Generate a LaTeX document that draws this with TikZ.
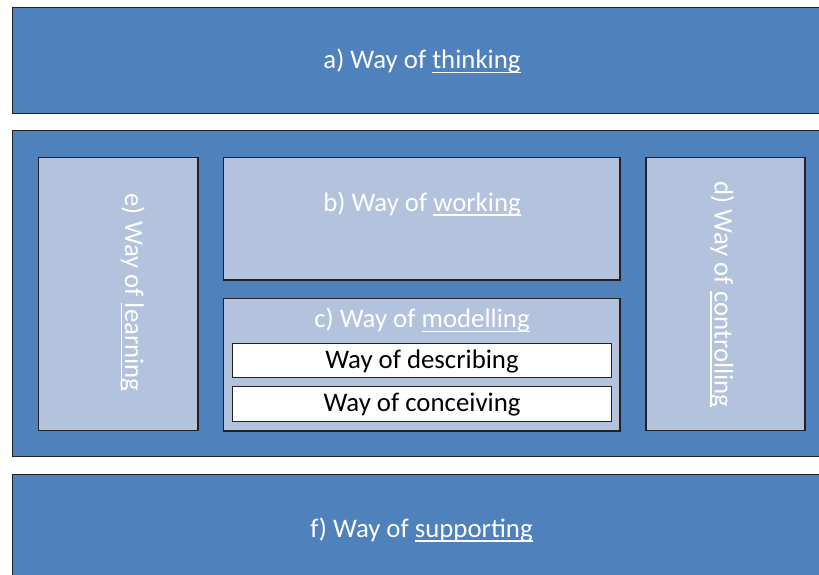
\documentclass[tikz,border=0pt]{standalone}
\usepackage{fontspec}
\setmainfont{Carlito}
\definecolor{dblue}{HTML}{4F81BD}
\definecolor{lblue}{HTML}{B3C2DD}
\definecolor{edgec}{HTML}{222222}
\newcommand\myul[1]{\setbox0\hbox{#1}\rlap{\rule[-4.5pt]{\wd0}{1.6pt}}\box0}
\tikzset{
  boxbase/.style={rectangle, draw=edgec, line width=1.3pt, inner sep=0pt, outer sep=0pt, anchor=north west},
  darkbox/.style={boxbase, fill=dblue},
  lightbox/.style={boxbase, fill=lblue},
  whitebox/.style={boxbase, fill=white, line width=1pt},
  label/.style={inner sep=0pt, anchor=base, font=\fontsize{26.8}{30}\selectfont, text=white},
  blacklabel/.style={label, text=black},
}
\begin{document}
\begin{tikzpicture}[x=1pt,y=-1pt]
\useasboundingbox (0,0) rectangle (819,575);
\clip (0,0) rectangle (819,575);
\fill[white] (0,0) rectangle (819,575);
% outer bands
\node[darkbox, minimum width=818pt, minimum height=105.8pt] (top) at (12.3,7.5) {};
\node[darkbox, minimum width=818pt, minimum height=326pt] (mid) at (12.3,130.7) {};
\node[darkbox, minimum width=818pt, minimum height=120pt] (bot) at (12.3,474.3) {};
% inner boxes
\node[lightbox, minimum width=159.7pt, minimum height=273pt] (ebox) at (38.3,157.3) {};
\node[lightbox, minimum width=396.7pt, minimum height=122.7pt] (bbox) at (223.3,157.3) {};
\node[lightbox, minimum width=396.7pt, minimum height=132.7pt] (cbox) at (223.3,298.3) {};
\node[lightbox, minimum width=159pt, minimum height=273pt] (dbox) at (646,157.3) {};
\node[whitebox, minimum width=379.4pt, minimum height=34.4pt] (desc) at (232.3,343.3) {};
\node[whitebox, minimum width=379.4pt, minimum height=35.7pt] (conc) at (232.3,386) {};
% labels
\node[label] (ta) at (422,69) {a) Way of \myul{thinking}};
\node[label] (tf) at (421.5,537) {f) Way of \myul{supporting}};
\node[label] (tb) at (422,211) {b) Way of \myul{working}};
\node[label] (tc) at (422,327.7) {c) Way of \myul{modelling}};
\node[blacklabel] (tdesc) at (422,368) {Way of describing};
\node[blacklabel] (tconc) at (422,411) {Way of conceiving};
\node[label, rotate=-90] (te) at (125,292.5) {e) Way of \myul{learning}};
\node[label, rotate=-90] (td) at (714.5,294.2) {d) Way of \myul{controlling}};
\end{tikzpicture}
\end{document}
